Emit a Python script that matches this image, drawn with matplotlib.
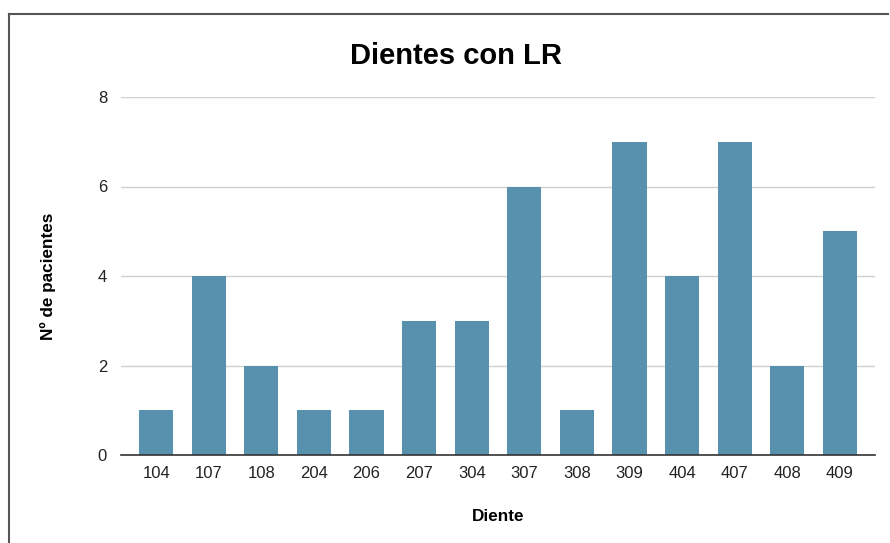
import matplotlib
matplotlib.use("Agg")
import matplotlib.pyplot as plt
from matplotlib.lines import Line2D

plt.rcParams['font.family'] = ['Liberation Sans', 'DejaVu Sans']

dientes = ["104", "107", "108", "204", "206", "207", "304", "307", "308", "309", "404", "407", "408", "409"]
pacientes = [1, 4, 2, 1, 1, 3, 3, 6, 1, 7, 4, 7, 2, 5]
y_ticks = [0, 2, 4, 6, 8]

fig = plt.figure(figsize=(8.9, 5.43), dpi=100)
ax = fig.add_axes([121 / 890, 1 - 455 / 543, (875 - 121) / 890, (455 - 97) / 543])

x = list(range(len(dientes)))
ax.bar(x, pacientes, width=0.65, color="#5891ae", zorder=3)

ax.set_xlim(-0.67, len(dientes) - 0.33)
ax.set_ylim(0, 8)
ax.set_yticks(y_ticks)
ax.set_xticks(x)
ax.set_xticklabels(dientes)
ax.tick_params(axis="both", length=0, labelsize=12, colors="#222222")
ax.tick_params(axis="x", pad=8)
ax.tick_params(axis="y", pad=10)

ax.grid(axis="y", color="#d0d0d0", linewidth=1, zorder=0)
for s in ["top", "right", "left"]:
    ax.spines[s].set_visible(False)
ax.spines["bottom"].set_color("#333333")
ax.spines["bottom"].set_linewidth(1.2)
ax.spines["bottom"].set_zorder(4)

ax.set_xlabel("Diente", fontsize=12.3, fontweight="bold", labelpad=20)
ax.set_ylabel("Nº de pacientes", fontsize=12.3, fontweight="bold", labelpad=30)
fig.text(456 / 890, 1 - 56 / 543, "Dientes con LR", fontsize=21, fontweight="bold",
         ha="center", va="center")

# Outer frame (top and left edges)
fig.add_artist(Line2D([9 / 890, 888 / 890], [1 - 14 / 543, 1 - 14 / 543],
                      transform=fig.transFigure, color="#555555", linewidth=1.5))
fig.add_artist(Line2D([9 / 890, 9 / 890], [0, 1 - 14 / 543],
                      transform=fig.transFigure, color="#555555", linewidth=1.5))

fig.savefig("out.png", dpi=100)
